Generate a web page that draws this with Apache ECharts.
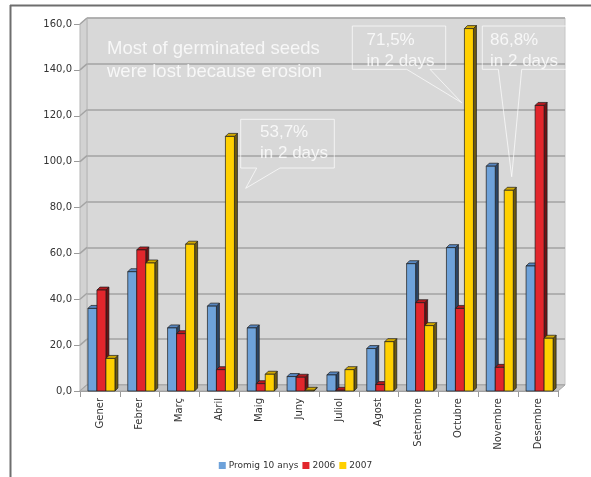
<!DOCTYPE html>
<html><head><meta charset="utf-8">
<script src="https://cdn.jsdelivr.net/npm/echarts@6/dist/echarts.min.js"></script>
<style>html,body{margin:0;padding:0;background:#fff}#c{width:591px;height:477px}</style>
</head><body><div id="c"></div>
<script>
// ---- data ----
const categories = ['Gener','Febrer','Març','Abril','Maig','Juny','Juliol','Agost','Setembre','Octubre','Novembre','Desembre'];
const seriesNames = ['Promig 10 anys','2006','2007'];
const promig10 = [36, 52, 27.5, 37, 27.5, 6.3, 7, 18.5, 55.5, 62.5, 98, 54.5];
const y2006    = [44, 61.5, 25, 9.3, 3.2, 6, 0.3, 2.8, 38.5, 36, 10.3, 124.5];
const y2007    = [14.2, 55.8, 64, 111, 7.3, 0.3, 9.3, 21.5, 28.5, 158, 87.5, 23];
const yMin = 0, yMax = 160, yInterval = 20;
const noteMain = ['Most of germinated seeds', 'were lost because erosion'];
const noteA = ['53,7%', 'in 2 days'];
const noteB = ['71,5%', 'in 2 days'];
const noteC = ['86,8%', 'in 2 days'];

// ---- styles ----
const palette = [
  {front:'#6ea2da', top:'#5786c0', side:'#2b4566'},
  {front:'#e2262c', top:'#b51a1f', side:'#6e1214'},
  {front:'#ffd000', top:'#d2a900', side:'#6b5812'}
];
const G = {left:80, top:24, right:33, bottom:86};
const DX = 7, DY = 6;

function makeRender(idx){
  const c = palette[idx];
  return function(params, api){
    const ci = api.value(0), v = api.value(1);
    const p0 = api.coord([ci, 0]), p1 = api.coord([ci, v]);
    const band = api.size([1, 0])[0];
    const w = band * 0.226;
    const cx = p0[0] + band * (-0.188 + idx * 0.226);
    const xl = cx - w / 2, xr = cx + w / 2, yt = p1[1], yb = p0[1];
    const d = 3;
    const st = (f) => ({fill:f, stroke:'#1b1b1b', lineWidth:0.7});
    return {type:'group', children:[
      {type:'polygon', shape:{points:[[xr,yb],[xr+d,yb-d],[xr+d,yt-d],[xr,yt]]}, style:st(c.side)},
      {type:'polygon', shape:{points:[[xl,yt],[xl+d,yt-d],[xr+d,yt-d],[xr,yt]]}, style:st(c.top)},
      {type:'rect', shape:{x:xl, y:yt, width:w, height:Math.max(0, yb-yt)}, style:st(c.front)}
    ]};
  };
}
const dataSets = [promig10, y2006, y2007];
const series = dataSets.map((arr, i) => ({
  type:'custom', name:seriesNames[i], xAxisIndex:0, yAxisIndex:0,
  itemStyle:{color:palette[i].front},
  renderItem: makeRender(i),
  data: arr.map((v, k) => [k, v]),
  z: 5
}));

const fmt = v => v.toFixed(1).replace('.', ',');
const chart = echarts.init(document.getElementById('c'));
chart.setOption({
  animation:false,
  backgroundColor:'#ffffff',
  grid:[
    {left:G.left, top:G.top, right:G.right, bottom:G.bottom},
    {left:G.left+DX, top:G.top-DY, right:G.right-DX, bottom:G.bottom+DY, show:true,
     backgroundColor:'#d8d8d8', borderColor:'#c6c6c6', borderWidth:1}
  ],
  xAxis:[
    {type:'category', gridIndex:0, data:categories,
     axisLine:{lineStyle:{color:'#9a9a9a', width:1}},
     axisTick:{show:true, length:6, lineStyle:{color:'#9a9a9a'}},
     axisLabel:{rotate:90, margin:7, fontFamily:'DejaVu Sans', fontSize:10, color:'#333'}},
    {type:'category', gridIndex:1, data:categories, show:false}
  ],
  yAxis:[
    {type:'value', gridIndex:0, min:yMin, max:yMax, interval:yInterval,
     axisLine:{show:true, lineStyle:{color:'#9a9a9a'}},
     axisTick:{show:true, length:6, lineStyle:{color:'#9a9a9a'}},
     splitLine:{show:false},
     axisLabel:{formatter:fmt, margin:8, fontFamily:'DejaVu Sans', fontSize:10, color:'#333'}},
    {type:'value', gridIndex:1, min:yMin, max:yMax, interval:yInterval,
     axisLine:{show:false}, axisTick:{show:false}, axisLabel:{show:false},
     splitLine:{show:true, lineStyle:{color:'#a3a3a3', width:1.5}}}
  ],
  legend:{
    data:seriesNames, bottom:2, left:'center', icon:'rect', itemWidth:7, itemHeight:7, itemGap:4,
    textStyle:{fontFamily:'DejaVu Sans', fontSize:9, color:'#333', padding:[0,0,0,-2]}
  },
  series: series
});

// decorations derived from axis scale
const ticks = [];
for (let v = yMin; v <= yMax; v += yInterval) ticks.push(v);
const W = 591, H = 477;
const gl = G.left, gr = W - G.right, gt = G.top, gb = H - G.bottom;
const graphics = [];
// frame
graphics.push({type:'line', shape:{x1:10, y1:5.5, x2:W, y2:5.5}, style:{stroke:'#6e6e6e', lineWidth:2}, z:1});
graphics.push({type:'line', shape:{x1:10.5, y1:5, x2:10.5, y2:H}, style:{stroke:'#6e6e6e', lineWidth:2}, z:1});
// left wall
graphics.push({type:'polygon', shape:{points:[[gl,gt],[gl+DX,gt-DY],[gl+DX,gb-DY],[gl,gb]]}, style:{fill:'#d2d2d2', stroke:'#b5b5b5', lineWidth:1}, z:1});
ticks.forEach(v => {
  const y = chart.convertToPixel({yAxisIndex:0}, v);
  graphics.push({type:'line', shape:{x1:gl, y1:y, x2:gl+DX, y2:y-DY}, style:{stroke:'#a3a3a3', lineWidth:1.5}, z:1});
});
// floor
graphics.push({type:'polygon', shape:{points:[[gl,gb],[gl+DX,gb-DY],[gr+DX,gb-DY],[gr,gb]]}, style:{fill:'#c4c4c4', stroke:'#a8a8a8', lineWidth:1}, z:1});
// annotations
const noteStroke = 'rgba(255,255,255,0.7)';
const noteFill = 'rgba(255,255,255,0.8)';
function callout(box, tail, tip, lines, tx, ty){
  graphics.push({type:'polygon', z:20, shape:{points:[
    [tail[0], box.b], [box.l, box.b], [box.l, box.t], [box.r, box.t], [box.r, box.b], [tail[1], box.b], tip
  ]}, style:{fill:'none', stroke:noteStroke, lineWidth:1}});
  graphics.push({type:'text', z:21, x:tx, y:ty, style:{text:lines.join('\n'), fill:noteFill,
    font:'17px "Liberation Sans", Arial, sans-serif', lineHeight:20.5, verticalAlign:'middle'}});
}
graphics.push({type:'text', z:21, x:107, y:60, style:{text:noteMain.join('\n'), fill:noteFill,
  font:'18.5px "Liberation Sans", Arial, sans-serif', lineHeight:23, verticalAlign:'middle'}});
callout({l:240.7, t:119.3, r:334.3, b:168}, [256.7, 280], [245.7, 188.3], noteA, 260, 143);
callout({l:352.3, t:26, r:445.7, b:69.3}, [406.7, 430], [461.7, 102.7], noteB, 366.5, 51);
callout({l:482.3, t:26, r:567, b:69.3}, [498.3, 521.7], [511.7, 176.7], noteC, 490, 51);
chart.setOption({graphic:{elements:graphics}});
</script>
</body></html>
